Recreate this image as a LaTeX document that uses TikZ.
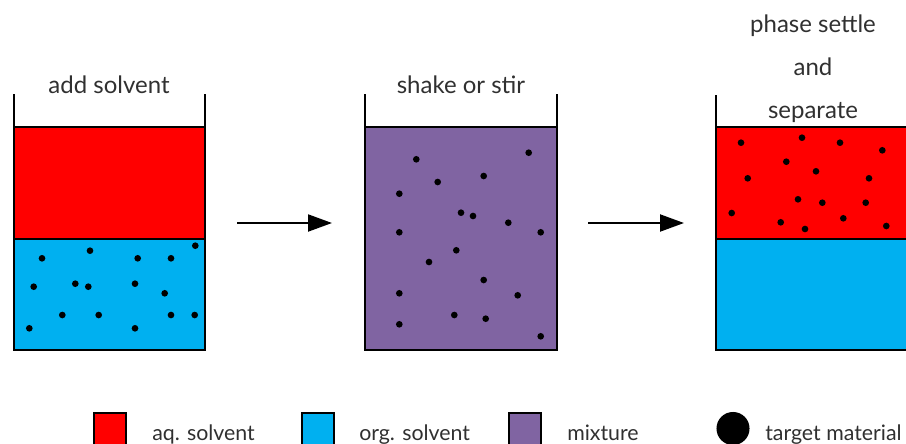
\documentclass[tikz,border=0pt]{standalone}
\usepackage{fontspec}
\setmainfont{Lato}
\usetikzlibrary{arrows.meta}
\definecolor{aqred}{HTML}{FF0000}
\definecolor{orgblue}{HTML}{00B0F0}
\definecolor{mixpurple}{HTML}{8064A2}
\definecolor{txtgray}{HTML}{303030}
\begin{document}
\begin{tikzpicture}[x=0.75pt,y=-0.75pt,
  wall/.style={line width=1.5pt, line join=miter, line cap=rect},
  layer/.style={draw=black, line width=1pt},
  tdot/.style={fill=black},
  ttl/.style={text=txtgray, font=\fontsize{18}{22}\selectfont, anchor=base, inner sep=0pt},
  leg/.style={text=txtgray, font=\fontsize{16}{20}\selectfont, anchor=base west, inner sep=0pt},
  legbox/.style={draw=black, line width=1pt},
  flow/.style={line width=1.5pt, -{Triangle[length=18pt, width=12.75pt]}}
]
\useasboundingbox (0,0) rectangle (906,443);
\clip (0,0) rectangle (906,443);

% ---------- beaker 1 ----------
\filldraw[layer, fill=aqred] (14,127) rectangle (205,239);
\filldraw[layer, fill=orgblue] (14,239) rectangle (205,350);
\foreach \x/\y in {42/258.3, 90/250.7, 137.7/258.3, 171/258.3, 195.3/245.7,
  33.7/286.7, 75.3/283.7, 88.3/286.7, 135/283.7, 164.7/293.3,
  62.3/315, 98.7/315, 171/315, 194.7/315, 29.3/328.3, 135/328.3}
  \fill[tdot] (\x,\y) circle [radius=2.5pt];
\draw[wall] (14,95) -- (14,350) -- (205,350) -- (205,95);
\node[ttl] (t1) at (109,93) {add solvent};

% ---------- beaker 2 ----------
\filldraw[layer, fill=mixpurple] (365,127) rectangle (557,350);
\foreach \x/\y in {416.3/159.3, 528.7/152.7, 483.7/176, 437.7/182, 399.3/193.7,
  461/212.7, 473/216, 508.3/222.7, 399.3/232.3, 540.7/232.3, 456.3/250.3,
  429/262, 483.7/280, 399.3/293.3, 517.7/295.3, 454.3/315, 485.7/318.7,
  399.3/324.3, 540.7/336.3}
  \fill[tdot] (\x,\y) circle [radius=2.5pt];
\draw[wall] (365,95) -- (365,350) -- (557,350) -- (557,95);
\node[ttl] (t2) at (461,93) {shake or stir};

% ---------- beaker 3 ----------
\filldraw[layer, fill=aqred] (716,127) rectangle (908,239);
\filldraw[layer, fill=orgblue] (716,239) rectangle (908,350);
\foreach \x/\y in {741/142.7, 802/137.7, 840/142.7, 882.3/150.3, 786.3/161.7,
  816/171.3, 747.7/178.3, 869/178.3, 798/199.3, 822.3/202.7, 865.7/202.7,
  731.7/213, 780.7/222.3, 805/229, 843.3/218.3, 886.3/226}
  \fill[tdot] (\x,\y) circle [radius=2.5pt];
\draw[wall] (716,96) -- (716,350) -- (908,350) -- (908,96);
\node[ttl] (t3a) at (813,32.7) {phase settle};
\node[ttl] (t3b) at (813,75.3) {and};
\node[ttl] (t3c) at (813,118) {separate};

% ---------- arrows ----------
\coordinate (a1s) at (237,223);
\coordinate (a1e) at (332,223);
\coordinate (a2s) at (588,223);
\coordinate (a2e) at (684,223);
\draw[flow] (a1s) -- (a1e);
\draw[flow] (a2s) -- (a2e);

% ---------- legend ----------
\filldraw[legbox, fill=aqred] (94,413) rectangle (126,445);
\node[leg] (l1) at (152,440) {aq. solvent};
\filldraw[legbox, fill=orgblue] (302,413) rectangle (334,445);
\node[leg] (l2) at (359,440) {org. solvent};
\filldraw[legbox, fill=mixpurple] (509,413) rectangle (541,445);
\node[leg] (l3) at (567,440) {mixture};
\fill[tdot] (733,428.5) circle [radius=12.4pt];
\node[leg] (l4) at (765,440) {target material};
\end{tikzpicture}
\end{document}
